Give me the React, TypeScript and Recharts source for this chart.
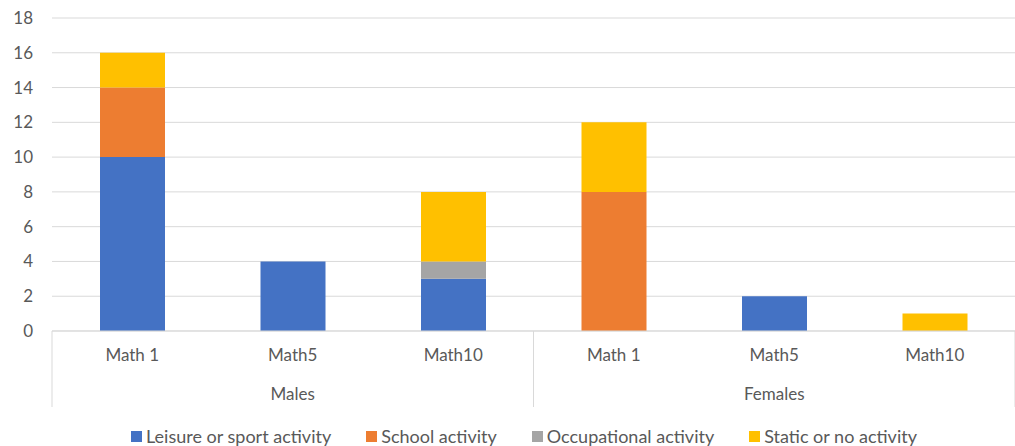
import React from 'react';
import { BarChart, Bar, XAxis, YAxis, CartesianGrid, Legend } from 'recharts';

// Activity counts by test and sex
const categories = ['Math 1', 'Math5', 'Math10', 'Math 1', 'Math5', 'Math10'];
const groups = ['Males', 'Males', 'Males', 'Females', 'Females', 'Females'];
const leisure = [10, 4, 3, 0, 2, 0];
const school = [4, 0, 0, 8, 0, 0];
const occupational = [0, 0, 1, 0, 0, 0];
const staticNo = [2, 0, 4, 4, 0, 1];
const yTicks = [0, 2, 4, 6, 8, 10, 12, 14, 16, 18];

const seriesNames = ['Leisure or sport activity', 'School activity', 'Occupational activity', 'Static or no activity'];
const seriesColors = ['#4472C4', '#ED7D31', '#A5A5A5', '#FFC000'];

const data = categories.map((c, i) => ({
  key: `${groups[i]}|${c}|${i}`,
  label: c,
  group: groups[i],
  leisure: leisure[i],
  school: school[i],
  occupational: occupational[i],
  staticNo: staticNo[i],
}));

const W = 1015;
const H = 446;
const MARGIN = { top: 18, right: 0, bottom: 0, left: 0 };
const Y_W = 52;
const X_H = 76;
const FONT = 'Lato, "Open Sans", sans-serif';
const FS = 17;
const TEXT = '#595959';
const LINE = '#D9D9D9';

const plotW = W - MARGIN.left - MARGIN.right - Y_W;
const band = plotW / categories.length;

const CategoryTick = (props: any) => {
  const { x, y, payload, index } = props;
  const i = typeof index === 'number' ? index : payload.index;
  const d = data[i];
  const left = x - band / 2;
  const right = x + band / 2;
  const isGroupStart = i === 0 || groups[i] !== groups[i - 1];
  const isGroupEnd = i === categories.length - 1 || groups[i] !== groups[i + 1];
  const groupIdx = groups.map((g, k) => (g === d.group ? k : -1)).filter((k) => k >= 0);
  const isGroupMid = groupIdx[Math.floor(groupIdx.length / 2)] === i;
  return (
    <g>
      <text x={x} y={y + 30} textAnchor="middle" fill={TEXT} fontSize={FS} fontFamily={FONT}>
        {d.label}
      </text>
      {isGroupMid && (
        <text x={x} y={y + 69} textAnchor="middle" fill={TEXT} fontSize={FS} fontFamily={FONT}>
          {d.group}
        </text>
      )}
      {isGroupStart && <line x1={left} x2={left} y1={y} y2={y + X_H} stroke={LINE} strokeWidth={1} />}
      {isGroupEnd && <line x1={right} x2={right} y1={y} y2={y + X_H} stroke={LINE} strokeWidth={1} />}
    </g>
  );
};

const LegendContent = () => (
  <div
    style={{
      display: 'flex',
      justifyContent: 'flex-start',
      gap: 35,
      fontFamily: FONT,
      fontSize: 18,
      lineHeight: '20px',
      color: TEXT,
      paddingTop: 19,
      paddingLeft: 131,
    }}
  >
    {seriesNames.map((n, i) => (
      <div key={n} style={{ display: 'flex', alignItems: 'center' }}>
        <span style={{ display: 'inline-block', width: 11, height: 11, background: seriesColors[i], marginRight: 4 }} />
        <span>{n}</span>
      </div>
    ))}
  </div>
);

export default function App() {
  return (
    <div style={{ position: 'absolute', left: 0, top: 0, width: W, height: H, background: '#fff' }}>
      <BarChart width={W} height={H} data={data} margin={MARGIN} barSize={65}>
        <CartesianGrid vertical={false} stroke={LINE} />
        <YAxis
          width={Y_W}
          domain={[0, 18]}
          ticks={yTicks}
          interval={0}
          axisLine={false}
          tickLine={false}
          tickSize={6}
          tickMargin={13}
          tick={{ fill: TEXT, fontSize: FS, fontFamily: FONT }}
        />
        <XAxis
          dataKey="key"
          height={X_H}
          interval={0}
          axisLine={{ stroke: LINE }}
          tickLine={false}
          tickSize={0}
          tickMargin={0}
          tick={<CategoryTick />}
        />
        <Legend verticalAlign="bottom" height={H - MARGIN.top - 313 - X_H} content={<LegendContent />} />
        <Bar dataKey="leisure" name={seriesNames[0]} stackId="a" fill={seriesColors[0]} isAnimationActive={false} />
        <Bar dataKey="school" name={seriesNames[1]} stackId="a" fill={seriesColors[1]} isAnimationActive={false} />
        <Bar dataKey="occupational" name={seriesNames[2]} stackId="a" fill={seriesColors[2]} isAnimationActive={false} />
        <Bar dataKey="staticNo" name={seriesNames[3]} stackId="a" fill={seriesColors[3]} isAnimationActive={false} />
      </BarChart>
    </div>
  );
}
